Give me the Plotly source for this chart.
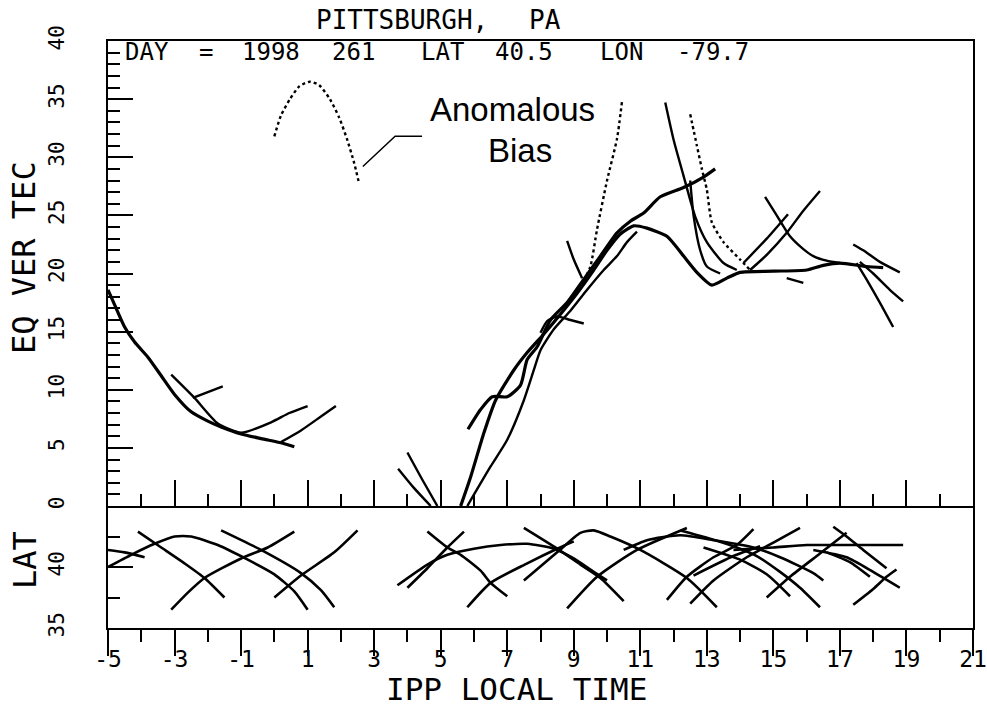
import plotly.graph_objects as go

# ---------------- DATA ----------------
# Upper panel: equivalent vertical TEC arcs, (IPP local time [h], TEC)
tec_arc01 = [(-5, 18.6), (-4.8, 17.3), (-4.5, 15.4), (-4.2, 14.1), (-3.8, 12.8), (-3.4, 11.2),
             (-3.0, 9.6), (-2.5, 8.1), (-2.0, 7.3), (-1.6, 6.8), (-1.0, 6.2), (-0.4, 5.8),
             (0.25, 5.4), (0.6, 5.1)]
tec_arc02 = [(-3.1, 11.3), (-2.4, 9.3), (-1.7, 7.1), (-1.0, 6.3), (-0.1, 7.2), (0.45, 8.0), (1.0, 8.6)]
tec_arc03 = [(-2.45, 9.3), (-2.0, 9.8), (-1.55, 10.3)]
tec_arc04 = [(0.2, 5.5), (0.8, 6.5), (1.4, 7.7), (1.85, 8.6)]
tec_arc05 = [(0.0, 31.8), (0.2, 33.6), (0.47, 35.0), (0.75, 36.1), (1.07, 36.5), (1.35, 36.2),
             (1.67, 35.0), (1.95, 33.4), (2.18, 31.6), (2.4, 29.5), (2.55, 27.7)]
tec_arc06 = [(4.0, 4.6), (4.44, 2.3), (4.9, 0.0)]
tec_arc07 = [(3.72, 3.2), (4.18, 1.6), (4.7, 0.0)]
tec_arc08 = [(5.6, 0.0), (5.9, 2.5), (6.3, 6.3), (6.65, 9.1), (7.2, 11.7), (7.6, 13.2), (8.1, 14.8),
             (8.6, 16.5), (9.1, 18.3), (9.6, 20.3), (10.0, 22.0), (10.4, 23.4), (10.8, 24.1),
             (11.2, 23.9), (11.8, 23.2), (12.3, 21.5), (12.7, 20.1), (13.15, 19.0), (13.6, 19.6),
             (14.0, 20.1), (15.0, 20.2), (16.0, 20.3), (16.5, 20.7), (17.0, 20.9), (17.8, 20.6),
             (18.3, 20.5)]
tec_arc09 = [(5.82, 6.6), (6.2, 8.3), (6.55, 9.4), (7.0, 9.4), (7.4, 10.4), (7.6, 12.6), (7.9, 13.7),
             (8.3, 16.0), (8.8, 17.5), (9.3, 19.5), (9.8, 21.5), (10.3, 23.5), (10.7, 24.5),
             (11.1, 25.2), (11.6, 26.6), (12.3, 27.4), (12.9, 28.3), (13.25, 29.0)]
tec_arc10 = [(5.8, 0.0), (6.5, 3.4), (7.0, 5.7), (7.5, 9.1), (7.8, 11.7), (8.0, 13.4), (8.4, 15.2),
             (8.9, 16.8), (9.4, 18.6), (9.9, 20.3), (10.3, 21.5), (10.6, 22.7), (10.9, 23.6)]
tec_arc11 = [(9.3, 19.4), (9.5, 20.6), (9.7, 23.8), (10.0, 28.0), (10.3, 31.6), (10.45, 34.8)]
tec_arc12 = [(8.8, 22.8), (9.0, 21.2), (9.25, 19.6)]
tec_arc13 = [(8.0, 14.9), (8.2, 15.9), (8.5, 16.3), (8.9, 16.0), (9.3, 15.7)]
tec_arc14 = [(11.75, 34.7), (12.0, 31.5), (12.3, 28.4), (12.65, 24.9), (13.0, 22.7), (13.5, 20.9), (13.9, 20.3)]
tec_arc15 = [(12.5, 33.7), (12.7, 31.0), (12.85, 29.0), (13.0, 27.2), (13.15, 24.4), (13.5, 22.7),
             (14.0, 21.2), (14.3, 20.3)]
tec_arc16 = [(12.5, 28.0), (12.6, 25.0), (12.8, 22.0), (13.0, 20.6), (13.4, 20.0)]
tec_arc17 = [(14.75, 26.6), (15.1, 25.0), (15.5, 23.2), (15.9, 22.1), (16.2, 21.5), (16.6, 21.1), (17.0, 20.9)]
tec_arc18 = [(14.3, 20.3), (14.8, 21.6), (15.4, 23.5), (15.9, 25.4), (16.4, 27.1)]
tec_arc19 = [(14.1, 20.9), (14.8, 23.0), (15.44, 25.1)]
tec_arc20 = [(15.4, 19.6), (15.9, 19.2)]
tec_arc21 = [(17.4, 22.5), (17.7, 22.0), (18.2, 21.0), (18.8, 20.1)]
tec_arc22 = [(17.6, 21.0), (18.0, 20.0), (18.5, 18.6), (18.9, 17.6)]
tec_arc23 = [(17.5, 20.9), (17.8, 19.5), (18.2, 17.5), (18.6, 15.4)]

# Lower panel: IPP latitude tracks, (IPP local time [h], latitude [deg])
lat_arc01 = [(-5, 40.0), (-4.3, 41.0), (-3.6, 41.9), (-3.0, 42.5), (-2.5, 42.5), (-1.7, 41.8),
             (-0.8, 40.6), (0.0, 39.4), (0.6, 38.0), (1.0, 36.5)]
lat_arc02 = [(-5, 41.4), (-4.5, 41.2), (-3.9, 40.8)]
lat_arc03 = [(-4.1, 42.9), (-3.4, 41.6), (-2.7, 40.3), (-2.1, 39.1), (-1.5, 37.5)]
lat_arc04 = [(-3.1, 36.5), (-2.6, 37.9), (-2.1, 39.1), (-1.0, 40.7), (-0.2, 41.6), (0.6, 42.9)]
lat_arc05 = [(-1.6, 43.0), (-0.4, 41.4), (0.8, 39.5), (1.4, 38.1), (1.8, 36.7)]
lat_arc06 = [(0.0, 37.5), (0.8, 39.3), (1.8, 41.2), (2.5, 43.0)]
lat_arc07 = [(4.6, 42.9), (5.2, 41.6), (5.6, 41.0), (6.2, 39.7), (6.5, 38.7), (7.0, 37.6)]
lat_arc08 = [(3.7, 38.5), (4.6, 40.2), (5.2, 41.0), (6.0, 41.5), (6.8, 41.8), (7.6, 41.9),
             (8.4, 41.5), (9.0, 40.7), (9.6, 39.6), (10.0, 38.9)]
lat_arc09 = [(4.0, 38.3), (4.6, 39.9), (5.2, 41.6), (5.7, 42.9)]
lat_arc10 = [(5.8, 36.7), (6.5, 38.7), (7.6, 40.3), (8.5, 41.5), (9.0, 42.1)]
lat_arc11 = [(7.5, 43.2), (8.5, 41.5), (9.2, 40.2), (9.8, 39.1), (10.5, 37.2)]
lat_arc12 = [(8.8, 36.6), (9.7, 39.2), (10.9, 41.4), (12.4, 43.2)]
lat_arc13 = [(7.5, 38.9), (8.5, 41.2), (9.2, 42.8), (9.6, 43.0), (10.1, 42.5), (11.0, 41.4),
             (12.4, 39.1), (13.3, 36.7)]
lat_arc14 = [(11.8, 37.3), (12.4, 39.2), (13.2, 40.8), (13.9, 41.8), (14.4, 43.1)]
lat_arc15 = [(12.5, 37.0), (13.2, 38.9), (14.2, 40.8), (15.0, 42.0), (15.8, 43.2)]
lat_arc16 = [(12.6, 39.3), (13.8, 40.9), (14.6, 41.7)]
lat_arc17 = [(10.5, 41.4), (11.2, 42.2), (12.2, 42.6), (13.2, 42.2), (14.4, 41.6), (15.2, 40.8),
             (16.2, 39.5), (16.5, 38.9)]
lat_arc18 = [(12.2, 43.0), (13.0, 42.4), (13.8, 41.7), (14.5, 40.9), (15.2, 39.6), (15.8, 38.3), (16.4, 36.7)]
lat_arc19 = [(12.9, 41.6), (14.0, 40.6), (14.8, 39.4), (15.5, 37.6)]
lat_arc20 = [(14.8, 37.5), (15.5, 39.2), (16.4, 41.1), (17.2, 42.8)]
lat_arc21 = [(16.8, 43.3), (17.2, 42.5), (17.7, 41.4), (18.4, 39.9)]
lat_arc22 = [(16.2, 41.4), (17.2, 40.8), (18.0, 39.6), (18.8, 38.3)]
lat_arc23 = [(16.6, 41.2), (17.3, 40.4), (17.9, 39.2)]
lat_arc24 = [(17.4, 36.9), (18.0, 38.2), (18.4, 39.2), (18.7, 39.8)]
lat_arc25 = [(13.8, 41.4), (15.0, 41.6), (16.0, 41.8), (17.0, 41.8), (18.0, 41.8), (18.9, 41.8)]

# Leader line of the "Anomalous Bias" note (time, TEC)
leader_time = [2.66, 3.63, 4.44]
leader_tec = [29.2, 31.8, 31.8]

# Tick values / labels
time_ticks = [-5, -3, -1, 1, 3, 5, 7, 9, 11, 13, 15, 17, 19, 21]
time_minor = [-4, -2, 0, 2, 4, 6, 8, 10, 12, 14, 16, 18, 20]
tec_ticks = [0, 5, 10, 15, 20, 25, 30, 35, 40]
lat_ticks = [35, 40]
lat_minor = [37.5, 42.5]

station_name = ["PITTSBURGH,", "PA"]
header_words = ["DAY", "=", "1998", "261", "LAT", "40.5", "LON", "-79.7"]

tec_arcs = [tec_arc01, tec_arc02, tec_arc03, tec_arc04, tec_arc05, tec_arc06, tec_arc07, tec_arc08,
            tec_arc09, tec_arc10, tec_arc11, tec_arc12, tec_arc13, tec_arc14, tec_arc15, tec_arc16,
            tec_arc17, tec_arc18, tec_arc19, tec_arc20, tec_arc21, tec_arc22, tec_arc23]
lat_arcs = [lat_arc01, lat_arc02, lat_arc03, lat_arc04, lat_arc05, lat_arc06, lat_arc07, lat_arc08,
            lat_arc09, lat_arc10, lat_arc11, lat_arc12, lat_arc13, lat_arc14, lat_arc15, lat_arc16,
            lat_arc17, lat_arc18, lat_arc19, lat_arc20, lat_arc21, lat_arc22, lat_arc23, lat_arc24,
            lat_arc25]

# ---------------- FIGURE ----------------
W, H = 987, 706
ML, MR, MT, MB = 108, 14, 41, 78
PW, PH = W - ML - MR, H - MT - MB
SPLIT = (H - MB - 506) / PH

def pxx(x):
    return (x - ML) / PW

def pxy(y):
    return (H - MB - y) / PH

dotted_tec = {4, 10, 14}
heavy_tec = {0, 7, 8}

fig = go.Figure()
for i, arc in enumerate(tec_arcs):
    fig.add_trace(go.Scatter(
        x=[p[0] for p in arc], y=[p[1] for p in arc], xaxis="x2", yaxis="y",
        mode="lines", showlegend=False, hoverinfo="skip",
        line=dict(color="black", width=3.2 if i in heavy_tec else 2.4,
                  dash="dot" if i in dotted_tec else "solid",
                  shape="spline", smoothing=0.6)))
for arc in lat_arcs:
    fig.add_trace(go.Scatter(
        x=[p[0] for p in arc], y=[p[1] for p in arc], xaxis="x", yaxis="y2",
        mode="lines", showlegend=False, hoverinfo="skip",
        line=dict(color="black", width=2.6, shape="spline", smoothing=0.6)))
fig.add_trace(go.Scatter(x=leader_time, y=leader_tec, xaxis="x2", yaxis="y", mode="lines",
                         showlegend=False, hoverinfo="skip",
                         line=dict(color="black", width=1.5)))

MONO = "DejaVu Sans Mono"
axis_common = dict(showline=True, linecolor="black", linewidth=2, automargin=False,
                   showgrid=False, zeroline=False, tickcolor="black", tickwidth=2)

fig.update_layout(
    width=W, height=H, margin=dict(l=ML, r=MR, t=MT, b=MB, autoexpand=False),
    paper_bgcolor="white", plot_bgcolor="white", showlegend=False,
    xaxis=dict(domain=[0, 1], anchor="y2", range=[-5, 21], tickmode="array",
               tickvals=time_ticks, ticktext=[str(v) for v in time_ticks],
               ticks="outside", ticklen=26, ticklabelstandoff=-17,
               ticklabeloverflow="allow", mirror=False,
               tickfont=dict(family=MONO, size=23, color="black"),
               minor=dict(tickvals=time_minor, ticks="outside", ticklen=12,
                          tickcolor="black", tickwidth=2),
               **axis_common),
    xaxis2=dict(domain=[0, 1], anchor="y", matches="x", range=[-5, 21], tickmode="array",
                tickvals=time_ticks, ticks="inside", ticklen=26, showticklabels=False,
                mirror=True,
                minor=dict(tickvals=time_minor, ticks="inside", ticklen=12,
                           tickcolor="black", tickwidth=2),
                **axis_common),
    yaxis=dict(domain=[SPLIT, 1], anchor="x2", range=[0, 40], tickmode="array",
               tickvals=tec_ticks, ticktext=[str(v) for v in tec_ticks],
               ticks="inside", ticklen=25, tickangle=-90, ticklabelstandoff=34,
               mirror=True,
               tickfont=dict(family=MONO, size=21, color="black"),
               minor=dict(dtick=1, tick0=0, ticks="inside", ticklen=12,
                          tickcolor="black", tickwidth=2),
               **axis_common),
    yaxis2=dict(domain=[0, SPLIT], anchor="x", range=[35, 45], tickmode="array",
                tickvals=lat_ticks, ticktext=[str(v) for v in lat_ticks],
                ticks="inside", ticklen=25, tickangle=-90, ticklabelstandoff=34,
                mirror=True,
                tickfont=dict(family=MONO, size=21, color="black"),
                minor=dict(tickvals=lat_minor, ticks="inside", ticklen=12,
                           tickcolor="black", tickwidth=2),
                **axis_common),
)

ann = []
def add_text(txt, x, y, size, family=MONO, angle=0):
    ann.append(dict(text=txt, x=pxx(x), y=pxy(y), xref="paper", yref="paper",
                    xanchor="center", yanchor="middle", showarrow=False, textangle=angle,
                    font=dict(family=family, size=size, color="black")))

for word, cx in zip(station_name, [402, 545]):
    add_text(word, cx, 20, 26)
for word, cx in zip(header_words, [147, 206, 271, 353, 442, 524, 621, 713]):
    add_text(word, cx, 52, 24)
add_text("EQ VER TEC", 24, 258, 32, angle=-90)
add_text("LAT", 25, 560, 32, angle=-90)
add_text("IPP LOCAL TIME", 516, 689, 31)
add_text("Anomalous", 512, 110, 33, family="Liberation Sans")
add_text("Bias", 520, 150, 33, family="Liberation Sans")
fig.update_layout(annotations=ann)

fig.write_html("out.html")
